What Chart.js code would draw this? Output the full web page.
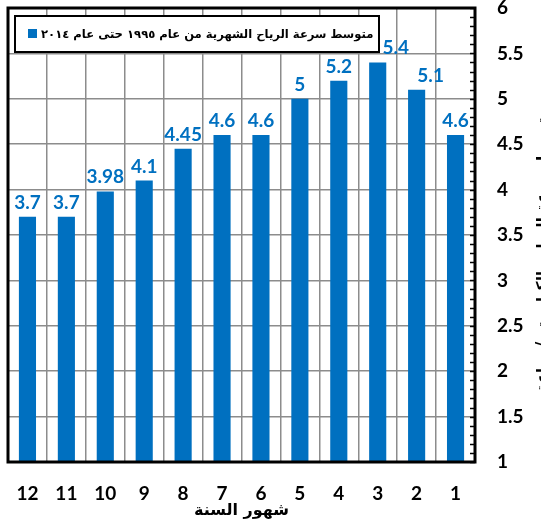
<!DOCTYPE html>
<html>
<head>
<meta charset="utf-8">
<script src="https://cdn.jsdelivr.net/npm/chart.js@4/dist/chart.umd.min.js"></script>
<style>
  html, body { margin: 0; padding: 0; background: #fff; }
</style>
</head>
<body>
<canvas id="myChart" width="541" height="523"></canvas>
<script>
// data
const months = ['1', '2', '3', '4', '5', '6', '7', '8', '9', '10', '11', '12'];
const windSpeed = [4.6, 5.1, 5.4, 5.2, 5, 4.6, 4.6, 4.45, 4.1, 3.98, 3.7, 3.7];
const speedLabels = ['4.6', '5.1', '5.4', '5.2', '5', '4.6', '4.6', '4.45', '4.1', '3.98', '3.7', '3.7'];
const seriesName = 'متوسط سرعة الرياح الشهرية من عام ١٩٩٥ حتى عام ٢٠١٤';
const xTitle = 'شهور السنة';
const yTitle = 'متوسط سرعة الرياح بالكيلومتر / ساعة';

const blue = '#0070C0';
const numFont = 'Lato, "Open Sans", sans-serif';
const arFont = '"DejaVu Sans", sans-serif';

// a couple of labels were nudged right in the original (next to the legend)
const labelShift = { 1: 14, 2: 18 };

const decorations = {
    id: 'decorations',
    afterDraw(chart) {
        const ctx = chart.ctx;
        const area = chart.chartArea;
        const y = chart.scales.y;

        ctx.save();
        // plot frame
        ctx.strokeStyle = '#000';
        ctx.lineWidth = 3;
        ctx.strokeRect(area.left, area.top, area.right - area.left, area.bottom - area.top);

        // minor ticks on the inside of the right edge
        ctx.lineWidth = 1.5;
        for (let i = 0; i <= 50; i++) {
            const py = Math.round(y.getPixelForValue(1 + i / 10)) + 0.5;
            ctx.beginPath();
            ctx.moveTo(area.right - 5, py);
            ctx.lineTo(area.right, py);
            ctx.stroke();
        }

        // legend box
        ctx.fillStyle = '#fff';
        ctx.fillRect(15, 16, 364, 36);
        ctx.lineWidth = 2;
        ctx.strokeStyle = '#000';
        ctx.strokeRect(15, 16, 364, 36);
        ctx.fillStyle = blue;
        ctx.fillRect(28, 29, 9, 9);
        let size = 14;
        ctx.font = 'bold ' + size + 'px ' + arFont;
        const w = ctx.measureText(seriesName).width;
        size = Math.min(16, size * 332 / w);
        ctx.font = 'bold ' + size.toFixed(1) + 'px ' + arFont;
        ctx.fillStyle = '#000';
        ctx.textAlign = 'left';
        ctx.textBaseline = 'middle';
        ctx.fillText(seriesName, 41, 35);

        // value labels above the bars
        const meta = chart.getDatasetMeta(0);
        ctx.font = 'bold 19px ' + numFont;
        ctx.fillStyle = blue;
        ctx.textAlign = 'center';
        ctx.textBaseline = 'alphabetic';
        meta.data.forEach((bar, i) => {
            const dx = labelShift[i] || 0;
            ctx.fillText(speedLabels[i], bar.x + dx, bar.y - 8);
        });

        // y axis title, cut by the right edge like the original
        ctx.fillStyle = '#000';
        ctx.font = 'bold 15px ' + arFont;
        ctx.translate(543, 250);
        ctx.rotate(-Math.PI / 2);
        ctx.textAlign = 'center';
        ctx.textBaseline = 'middle';
        ctx.fillText(yTitle, 0, 0);
        ctx.restore();
    }
};

const ctx = document.getElementById('myChart');
const myChart = new Chart(ctx, {
    type: 'bar',
    data: {
        labels: months,
        datasets: [{
            label: seriesName,
            data: windSpeed,
            backgroundColor: blue,
            borderWidth: 0,
            categoryPercentage: 1,
            barPercentage: 0.44
        }]
    },
    options: {
        responsive: false,
        animation: false,
        layout: { padding: { left: 8, top: 8, right: 0, bottom: 0 } },
        plugins: {
            legend: { display: false },
            tooltip: { enabled: false }
        },
        scales: {
            x: {
                reverse: true,
                grid: { color: '#8c8c8c', lineWidth: 1.5, drawTicks: false, offset: true },
                border: { display: false },
                ticks: {
                    color: '#000',
                    padding: 20,
                    font: { family: numFont, size: 19, weight: 'bold' }
                },
                title: {
                    display: true,
                    text: xTitle,
                    color: '#000',
                    font: { family: arFont, size: 16, weight: 'bold' },
                    padding: { top: 0, bottom: 3 }
                },
                afterFit(scale) {
                    scale.height = 61;
                    scale.paddingLeft = 0;
                    scale.paddingRight = 0;
                }
            },
            y: {
                position: 'right',
                min: 1,
                max: 6,
                grid: { color: '#8c8c8c', lineWidth: 1.5, drawTicks: false },
                border: { display: false },
                ticks: {
                    stepSize: 0.5,
                    color: '#000',
                    padding: 22,
                    font: { family: numFont, size: 19, weight: 'bold' },
                    callback: (v) => String(v)
                },
                afterFit(scale) {
                    scale.width = 66;
                    scale.paddingTop = 0;
                    scale.paddingBottom = 0;
                }
            }
        }
    },
    plugins: [decorations]
});
</script>
</body>
</html>
